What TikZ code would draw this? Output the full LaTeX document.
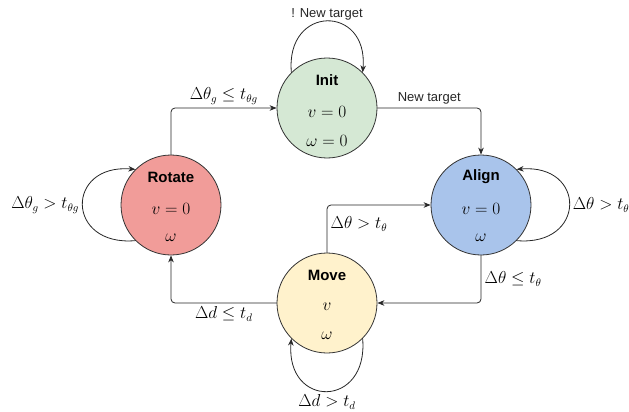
\documentclass[tikz,border=0pt]{standalone}
\usepackage{fontspec}
\newfontfamily\drawiofont{Liberation Sans}
\usetikzlibrary{arrows.meta}
\definecolor{initgreen}{HTML}{D5E8D4}
\definecolor{rotred}{HTML}{F19C99}
\definecolor{alignblue}{HTML}{A9C4EB}
\definecolor{moveyellow}{HTML}{FFF2CC}
\begin{document}
\begin{tikzpicture}[x=1pt, y=-1pt, line join=round, line cap=round, >={Stealth[length=7pt,width=5.5pt]}]
	\tikzset{
		state/.style={circle, draw=black!80, line width=.8pt, minimum size=100pt, inner sep=0pt},
		title/.style={font=\drawiofont\fontsize{15}{18}\selectfont\bfseries},
		lbl/.style={font=\drawiofont\fontsize{13}{16}\selectfont, text=black!85},
		mth/.style={font=\fontsize{16}{19}\selectfont},
		edge/.style={->, line width=.8pt, draw=black!85, rounded corners=4pt}
	}
	\useasboundingbox (0,0) rectangle (629,412);
	\foreach \n/\p/\c/\t/\v/\w in {init/{327,108}/initgreen/Init/v=0/\omega=0, rot/{171,205}/rotred/Rotate/v=0/\omega, align/{481,205}/alignblue/Align/v=0/\omega, move/{327,303}/moveyellow/Move/v/\omega}{
		\node[state, fill=\c] (\n) at (\p) {};
		\node[title] (\n-t) at ([yshift=28pt]\n.center) {\t};
		\node[mth] (\n-v) at ([yshift=-4pt]\n.center) {$\v$};
		\node[mth] (\n-w) at ([yshift=-33pt]\n.center) {$\w$};
	}
	\draw[edge] (rot.north) |- (init.west) node[pos=.75, above, mth] (rot-init) {$\Delta\theta_g \le t_{\theta g}$};
	\draw[edge] (init.east) -| (align.north) node[pos=.25, above, lbl] (init-align) {New target};
	\draw[edge] (align.south) |- (move.east) node[pos=.25, right, mth] (align-move) {$\Delta\theta \le t_\theta$};
	\draw[edge] (move.north) |- (align.west) node[pos=.3, right, mth] (move-align) {$\Delta\theta > t_\theta$};
	\draw[edge] (move.west) -| (rot.south) node[pos=.25, below, mth] (move-rot) {$\Delta d \le t_d$};
	\draw[edge] (init.135) .. controls +(-6,-68) and +(6,-68) .. (init.45) node[pos=.5, above=-3pt, lbl] (init-loop) {! New target};
	\draw[edge] (rot.225) .. controls +(-70,6) and +(-70,-6) .. (rot.135) node[pos=.5, left, mth] (rot-loop) {$\Delta\theta_g > t_{\theta g}$};
	\draw[edge] (align.-45) .. controls +(70,6) and +(70,-6) .. (align.45) node[pos=.5, right, mth] (align-loop) {$\Delta\theta > t_\theta$};
	\draw[edge] (move.-45) .. controls +(6,70) and +(-6,70) .. (move.-135) node[pos=.5, below, mth] (move-loop) {$\Delta d > t_d$};
\end{tikzpicture}
\end{document}
